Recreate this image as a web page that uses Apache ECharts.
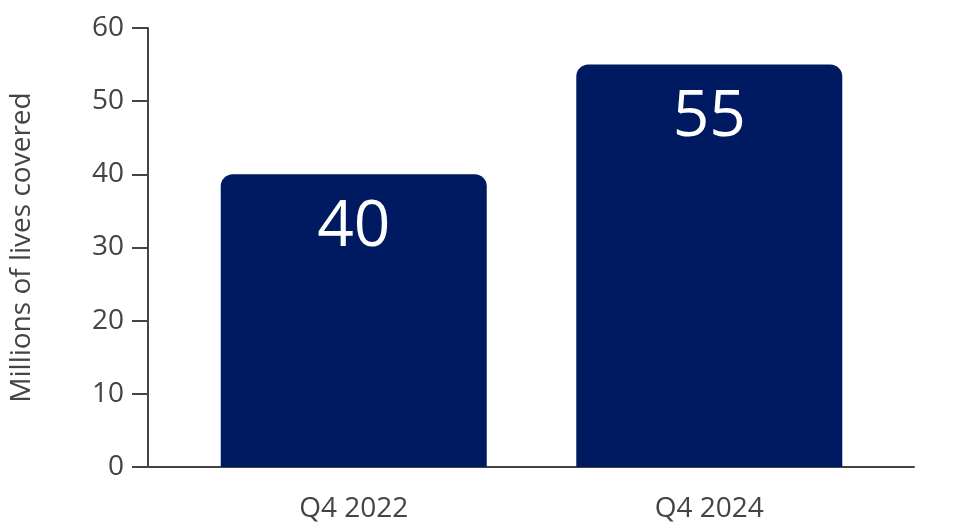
<!DOCTYPE html>
<html>
<head>
<meta charset="utf-8">
<script src="https://cdn.jsdelivr.net/npm/echarts@6/dist/echarts.min.js"></script>
<style>html,body{margin:0;padding:0;background:#fff}#c{width:966px;height:528px}</style>
</head>
<body>
<div id="c"></div>
<script>
const categories = ['Q4 2022', 'Q4 2024'];
const values = [40, 55];
const yTicks = [0, 10, 20, 30, 40, 50, 60];
const yName = 'Millions of lives covered';

const font = 'Open Sans';
const axisColor = '#444';
const chart = echarts.init(document.getElementById('c'));
chart.setOption({
  animation: false,
  grid: { left: 147, right: 52, top: 28, bottom: 61 },
  xAxis: {
    type: 'value',
    min: -0.5787,
    max: 1.5758,
    splitLine: { show: false },
    axisTick: { show: false },
    axisLine: { show: true, onZero: false, lineStyle: { color: axisColor, width: 2 } },
    axisLabel: {
      customValues: categories.map((c, i) => i),
      formatter: v => categories[Math.round(v)] || '',
      fontFamily: font, fontSize: 28, color: axisColor, margin: 28
    }
  },
  yAxis: {
    type: 'value',
    min: yTicks[0], max: yTicks[yTicks.length - 1], interval: 10,
    splitLine: { show: false },
    axisLine: { show: true, onZero: false, lineStyle: { color: axisColor, width: 2 } },
    axisTick: { show: true, length: 16, lineStyle: { color: axisColor, width: 2 } },
    axisLabel: { fontFamily: font, fontSize: 28, color: axisColor, margin: 24 },
    name: yName,
    nameLocation: 'middle',
    nameGap: 112,
    nameTextStyle: { fontFamily: font, fontSize: 28, color: axisColor }
  },
  series: [{
    type: 'bar',
    barWidth: 266,
    data: values.map((v, i) => [i, v]),
    itemStyle: { color: '#001A61', borderRadius: [12, 12, 0, 0] },
    label: {
      show: true, position: 'insideTop', distance: 21,
      fontFamily: font, fontSize: 64, color: '#fff'
    }
  }]
});
</script>
</body>
</html>
